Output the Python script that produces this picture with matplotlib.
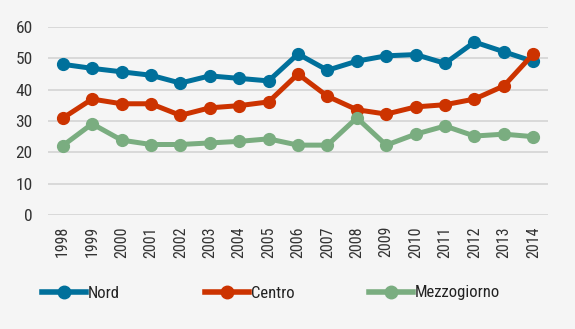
import matplotlib
matplotlib.use("Agg")
import matplotlib.pyplot as plt
from matplotlib.lines import Line2D

years = ["1998", "1999", "2000", "2001", "2002", "2003", "2004", "2005", "2006",
         "2007", "2008", "2009", "2010", "2011", "2012", "2013", "2014"]
nord = [48.1, 46.8, 45.7, 44.6, 42.1, 44.4, 43.6, 42.8, 51.4, 46.2, 49.1, 50.8, 51.2, 48.4, 55.2, 52.1, 49.0]
centro = [30.9, 37.0, 35.5, 35.5, 31.8, 34.2, 34.9, 36.1, 45.0, 37.9, 33.6, 32.2, 34.5, 35.2, 37.0, 41.2, 51.4]
mezzogiorno = [22.1, 29.1, 23.9, 22.5, 22.5, 23.0, 23.5, 24.3, 22.3, 22.3, 31.0, 22.3, 25.8, 28.4, 25.2, 25.8, 25.0]
series_names = ["Nord", "Centro", "Mezzogiorno"]
colors = ["#00709b", "#cc3300", "#7aad80"]
yticks = [0, 10, 20, 30, 40, 50, 60]

plt.rcParams['font.family'] = ['Roboto Condensed', 'DejaVu Sans']

bg = "#f5f5f5"
fig = plt.figure(figsize=(5.75, 3.29), dpi=100, facecolor=bg)
ax = fig.add_axes([48/575, 1-215/329, 500/575, 188/329], facecolor=bg)

x = list(range(len(years)))
for name, vals, c in zip(series_names, [nord, centro, mezzogiorno], colors):
    ax.plot(x, vals, color=c, lw=3.6, marker='o', markersize=8.5, label=name,
            solid_joinstyle='round', zorder=3)

ax.set_xlim(-0.5, len(years) - 0.5)
ax.set_ylim(0, 60)
ax.set_yticks(yticks)
ax.set_yticklabels([str(v) for v in yticks], fontsize=12.5, color="#333333")
ax.set_xticks(x)
ax.set_xticklabels(years, rotation=90, fontsize=11.5, color="#333333")
ax.tick_params(length=0)
ax.tick_params(axis='y', pad=11)
ax.tick_params(axis='x', pad=8)
ax.grid(axis='y', color="#d6d6d6", lw=1.3, zorder=0)
for s in ax.spines.values():
    s.set_visible(False)

handles = [Line2D([0], [0], color=c, lw=4, marker='o', markersize=9) for c in colors]
xs = [42/575, 205/575, 369/575]
for h, name, xx in zip(handles, series_names, xs):
    leg = fig.legend([h], [name], loc='center left', bbox_to_anchor=(xx, 1-293/329),
                     frameon=False, fontsize=12, handlelength=2.64, handletextpad=0.12,
                     borderaxespad=0, borderpad=0)
    for t in leg.get_texts():
        t.set_color("#222222")

fig.savefig("out.png", dpi=100, facecolor=bg)
